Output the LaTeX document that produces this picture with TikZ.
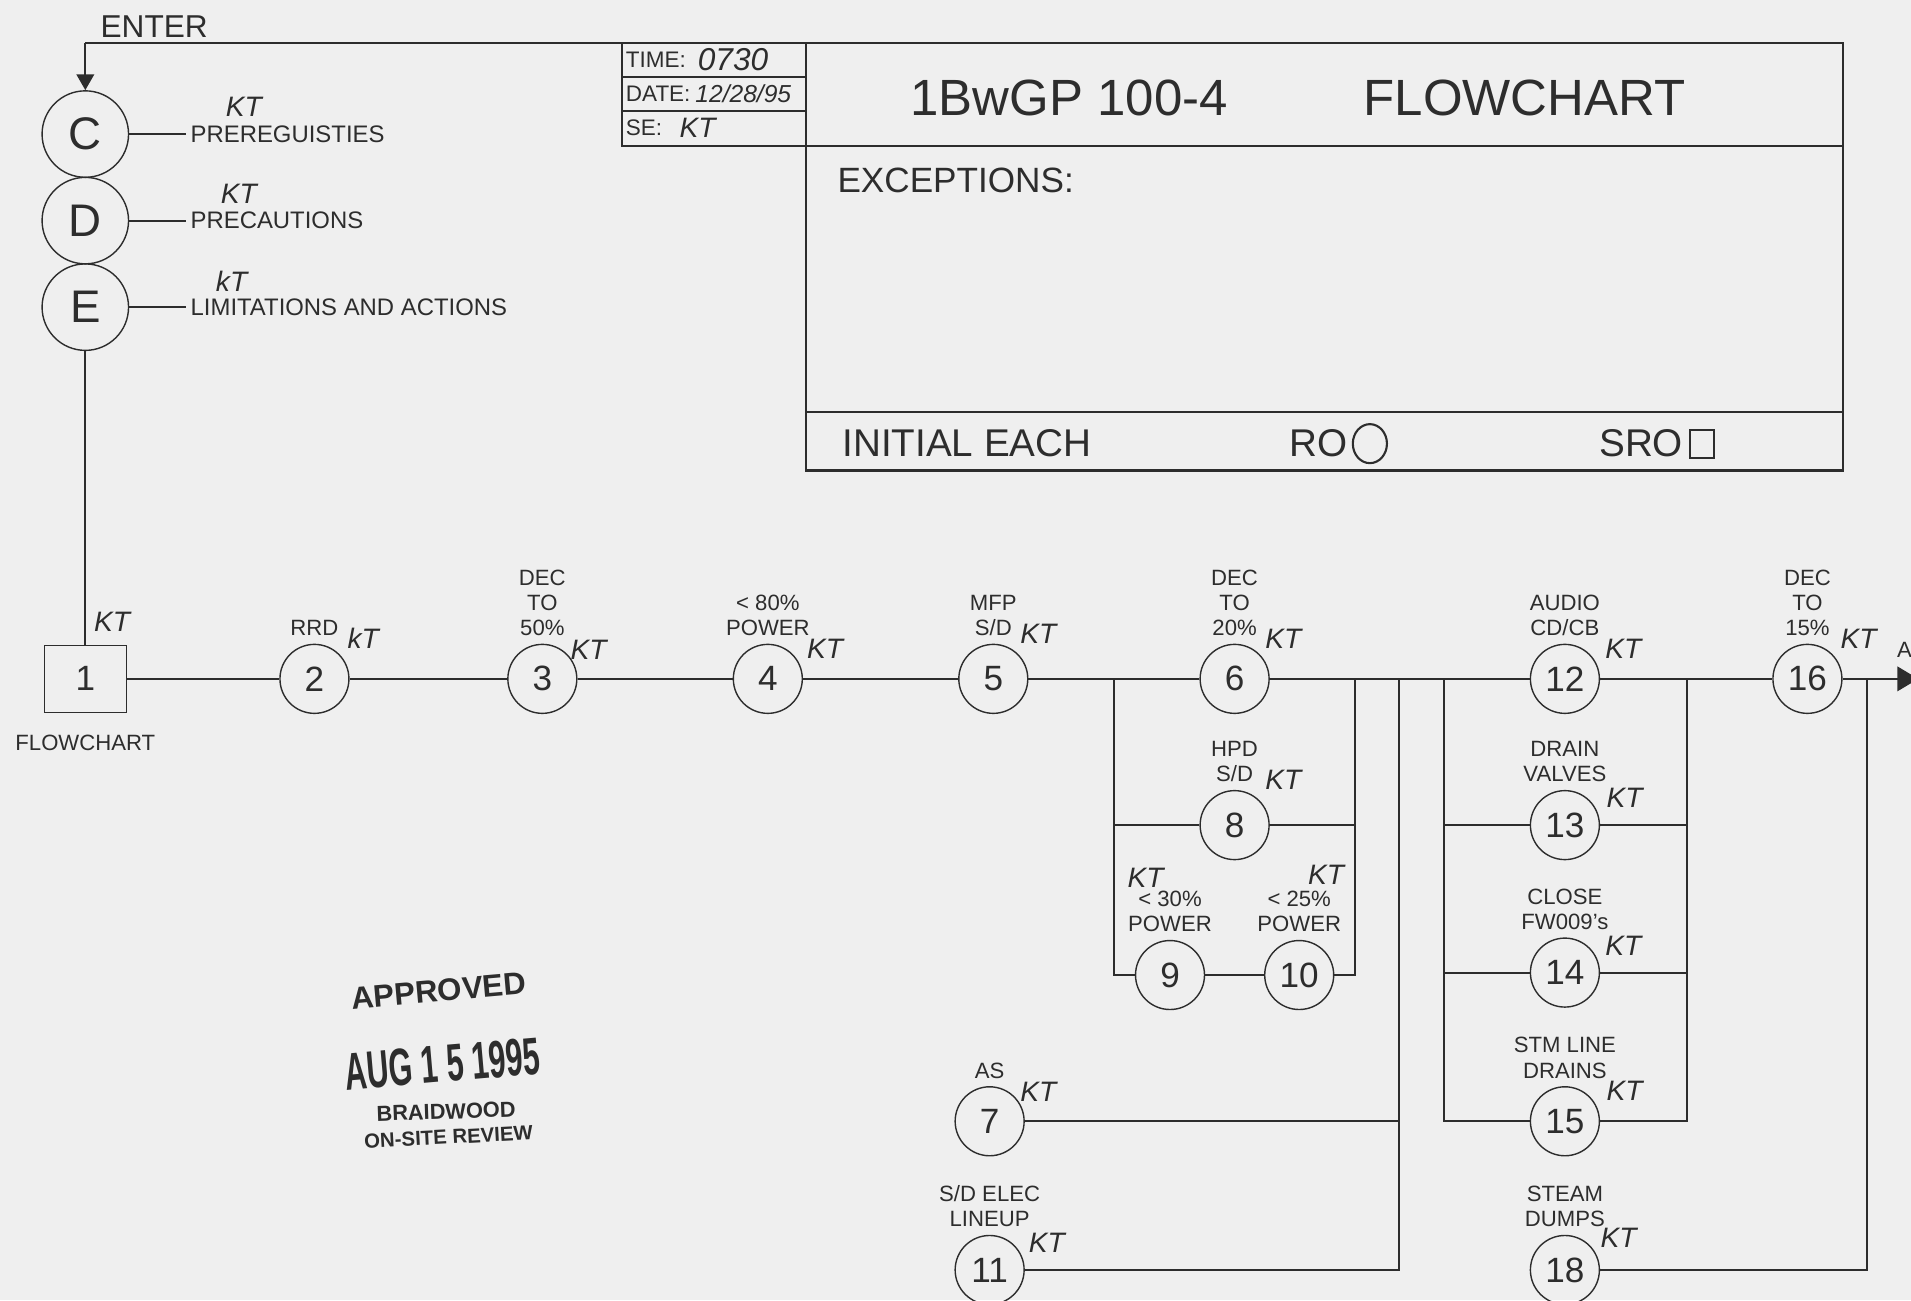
\documentclass[tikz,border=0pt]{standalone}
\usepackage{fontspec}
\setmainfont{Liberation Sans}
\usetikzlibrary{positioning,arrows.meta}
\definecolor{ScanGray}{RGB}{239,239,239}
\definecolor{InkBlack}{RGB}{45,45,45}
\tikzset{
  stp/.style={circle,draw=InkBlack,minimum size=0.69cm,inner sep=0pt,font=\fontsize{10}{10}\selectfont},
  sec/.style={circle,draw=InkBlack,minimum size=0.865cm,inner sep=0pt,font=\fontsize{13}{13}\selectfont},
  box/.style={draw=InkBlack,minimum width=0.82cm,minimum height=0.67cm,inner sep=0pt,font=\fontsize{10}{10}\selectfont},
  lbl/.style={align=center,inner sep=1pt,font=\fontsize{6.3}{7.2}\selectfont},
  desc/.style={anchor=west,inner sep=1pt,font=\fontsize{6.8}{8}\selectfont},
  form/.style={anchor=west,inner sep=0pt,font=\fontsize{6.4}{7}\selectfont},
  kt/.style={inner sep=0pt,font=\fontsize{8}{8}\selectfont\itshape},
  wire/.style={draw=InkBlack,line width=0.6pt},
  stamp/.style={inner sep=0pt},
}

\begin{document}
\begin{tikzpicture}[x=0.012188cm,y=-0.012188cm,every node/.style={text=InkBlack}]
\fill[ScanGray] (0,0) rectangle (1568,1067);
\useasboundingbox (0,0) rectangle (1568,1067);
% title block
\draw[wire] (661,35) rectangle (1512,386);
\draw[wire] (510,35) rectangle (661,120);
\draw[wire] (510,63) -- (661,63);
\draw[wire] (510,91) -- (661,91);
\draw[wire] (661,120) -- (1512,120);
\draw[wire] (661,338) -- (1512,338);
\node[form] (tTime) at (513,49) {TIME:};
\node[kt,anchor=west,font=\fontsize{9}{9}\selectfont\itshape] (vTime) at (572,49) {0730};
\node[form] (tDate) at (513,77) {DATE:};
\node[kt,anchor=west,font=\fontsize{7}{7}\selectfont\itshape] (vDate) at (570,77) {12/28/95};
\node[form] (tSe) at (513,105) {SE:};
\node[kt,anchor=west] (vSe) at (557,105) {KT};
\node[font=\fontsize{14.5}{15}\selectfont] (title) at (1065,80) {1BwGP 100-4\hspace{2.67em}FLOWCHART};
\node[anchor=west,font=\fontsize{10}{10}\selectfont] (exc) at (677,148) {EXCEPTIONS:};
\node[anchor=west,font=\fontsize{11}{11}\selectfont] (init) at (681,364) {INITIAL EACH};
\node[anchor=west,font=\fontsize{11}{11}\selectfont] (ro) at (1048,364) {RO};
\draw[wire] (1124,364) ellipse (14 and 16);
\node[anchor=west,font=\fontsize{11}{11}\selectfont] (sro) at (1302,364) {SRO};
\draw[wire] (1387,353) rectangle (1406,376);
% entry
\coordinate (enter) at (70,35);
\node[anchor=south west,font=\fontsize{9}{9}\selectfont,inner sep=0pt] (tEnter) at (82,31) {ENTER};
\draw[wire] (enter) -- (510,35);
\node[sec] (nC) at (70,110) {C};
\node[sec] (nD) at (70,181) {D};
\node[sec] (nE) at (70,252) {E};
\draw[wire,-{Triangle[length=4.5pt,width=5pt]}] (enter) -- (nC);
\node[desc] (tC) at (153,110) {PREREGUISTIES};
\node[desc] (tD) at (153,181) {PRECAUTIONS};
\node[desc] (tE) at (153,252) {LIMITATIONS AND ACTIONS};
\draw[wire] (nC) -- (tC);
\draw[wire] (nD) -- (tD);
\draw[wire] (nE) -- (tE);
\node[kt] (kC) at (200,88) {KT};
\node[kt] (kD) at (196,159) {KT};
\node[kt] (kE) at (190,231) {kT};
% steps
\node[box] (n1) at (70,557) {1};
\node[stp] (n2) at (258,557) {2};
\node[stp] (n3) at (445,557) {3};
\node[stp] (n4) at (630,557) {4};
\node[stp] (n5) at (815,557) {5};
\node[stp] (n6) at (1013,557) {6};
\node[stp] (n8) at (1013,677) {8};
\node[stp] (n9) at (960,800) {9};
\node[stp] (n10) at (1066,800) {10};
\node[stp] (n7) at (812,920) {7};
\node[stp] (n11) at (812,1042) {11};
\node[stp] (n12) at (1284,557) {12};
\node[stp] (n13) at (1284,677) {13};
\node[stp] (n14) at (1284,798) {14};
\node[stp] (n15) at (1284,920) {15};
\node[stp] (n18) at (1284,1042) {18};
\node[stp] (n16) at (1483,557) {16};
% step texts
\node[lbl,below=5pt of n1] (t1) {FLOWCHART};
\node[lbl,above=1pt of n2] (t2) {RRD};
\node[lbl,above=1pt of n3] (t3) {DEC\\TO\\50\%};
\node[lbl,above=1pt of n4] (t4) {< 80\%\\POWER};
\node[lbl,above=1pt of n5] (t5) {MFP\\S/D};
\node[lbl,above=1pt of n6] (t6) {DEC\\TO\\20\%};
\node[lbl,above=1pt of n8] (t8) {HPD\\S/D};
\node[lbl,above=1pt of n9] (t9) {< 30\%\\POWER};
\node[lbl,above=1pt of n10] (t10) {< 25\%\\POWER};
\node[lbl,above=1pt of n7] (t7) {AS};
\node[lbl,above=1pt of n11] (t11) {S/D ELEC\\LINEUP};
\node[lbl,above=1pt of n12] (t12) {AUDIO\\CD/CB};
\node[lbl,above=1pt of n13] (t13) {DRAIN\\VALVES};
\node[lbl,above=1pt of n14] (t14) {CLOSE\\FW009's};
\node[lbl,above=1pt of n15] (t15) {STM LINE\\DRAINS};
\node[lbl,above=1pt of n18] (t18) {STEAM\\DUMPS};
\node[lbl,above=1pt of n16] (t16) {DEC\\TO\\15\%};
% initials
\node[kt] (k1) at (92,510) {KT};
\node[kt] (k2) at (298,524) {kT};
\node[kt] (k3) at (483,533) {KT};
\node[kt] (k4) at (677,532) {KT};
\node[kt] (k5) at (852,520) {KT};
\node[kt] (k6) at (1053,524) {KT};
\node[kt] (k8) at (1053,640) {KT};
\node[kt] (k9) at (940,720) {KT};
\node[kt] (k10) at (1088,718) {KT};
\node[kt] (k7) at (852,896) {KT};
\node[kt] (k11) at (859,1020) {KT};
\node[kt] (k12) at (1332,532) {KT};
\node[kt] (k13) at (1333,655) {KT};
\node[kt] (k14) at (1332,776) {KT};
\node[kt] (k15) at (1333,895) {KT};
\node[kt] (k18) at (1328,1016) {KT};
\node[kt] (k16) at (1525,524) {KT};
% junctions
\coordinate (j1) at (914,557);
\coordinate (j2) at (1112,557);
\coordinate (j3) at (1148,557);
\coordinate (j4) at (1185,557);
\coordinate (j5) at (1384,557);
\coordinate (j6) at (1532,557);
\coordinate (aout) at (1574,557);
% connectors
\draw[wire] (nE) -- (n1);
\draw[wire] (n1) -- (n2);
\draw[wire] (n2) -- (n3);
\draw[wire] (n3) -- (n4);
\draw[wire] (n4) -- (n5);
\draw[wire] (n5) -- (n6);
\draw[wire] (n6) -- (n12);
\draw[wire] (n12) -- (n16);
\draw[wire,-{Triangle[length=6pt,width=7pt]}] (n16) -- (aout);
\node[anchor=south west,lbl,inner sep=0pt] (tA) at (1556,540) {A};
\draw[wire] (j1) |- (n8);
\draw[wire] (j1) |- (n9);
\draw[wire] (n9) -- (n10);
\draw[wire] (n8) -| (j2);
\draw[wire] (n10) -| (j2);
\draw[wire] (n7) -| (j3);
\draw[wire] (n11) -| (j3);
\draw[wire] (j4) |- (n13);
\draw[wire] (j4) |- (n14);
\draw[wire] (j4) |- (n15);
\draw[wire] (n13) -| (j5);
\draw[wire] (n14) -| (j5);
\draw[wire] (n15) -| (j5);
\draw[wire] (n18) -| (j6);
% approval stamp
\node[stamp,rotate=5,font=\fontsize{8.9}{9}\selectfont\bfseries] (sApp) at (360,813) {APPROVED};
\node[stamp,rotate=5,font=\fontsize{15}{15}\selectfont\bfseries] (sDate) at (363,873) {\scalebox{0.58}[1]{AUG 1 5 1995}};
\node[stamp,rotate=2,font=\fontsize{6.2}{7}\selectfont\bfseries] (sSite) at (366,912) {BRAIDWOOD};
\node[stamp,rotate=3,font=\fontsize{5.8}{7}\selectfont\bfseries] (sRev) at (368,933) {ON-SITE REVIEW};
\end{tikzpicture}
\end{document}
